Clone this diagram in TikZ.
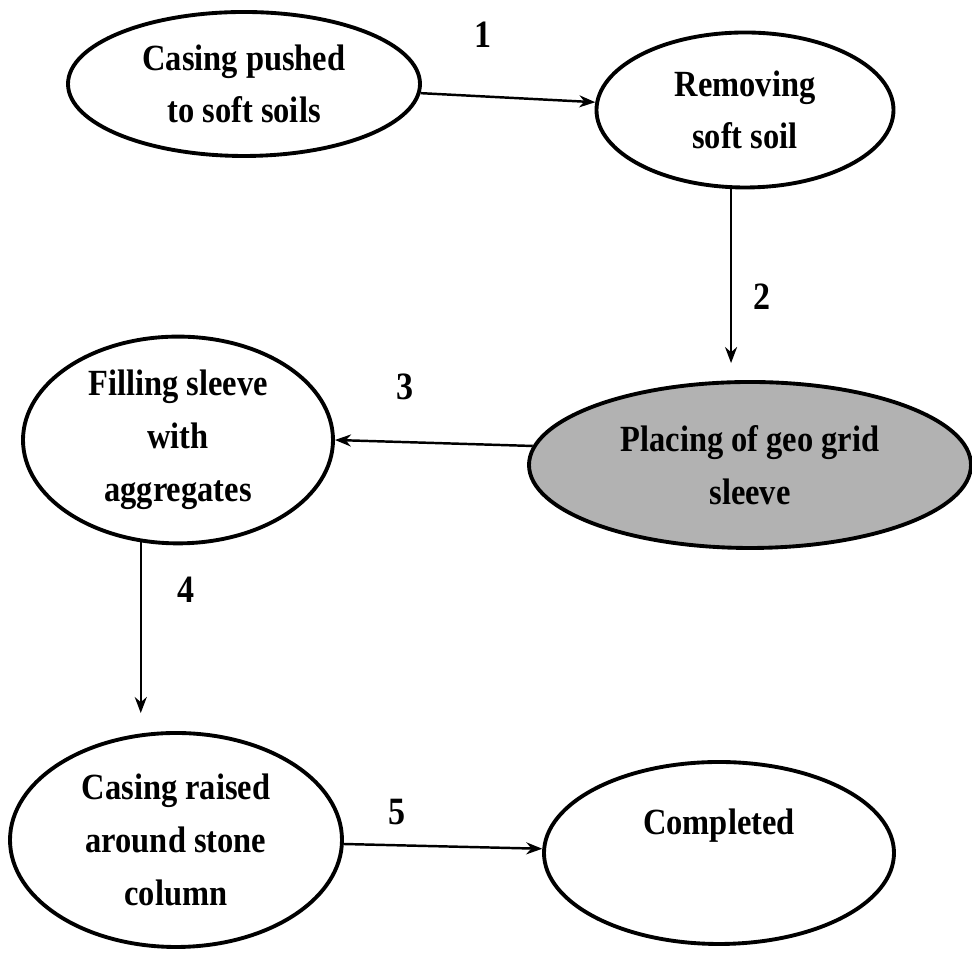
\documentclass[tikz,border=0pt]{standalone}
\usepackage{fontspec}
\setmainfont[FakeStretch=0.88]{Liberation Serif}
\usetikzlibrary{arrows.meta,positioning,shapes.geometric}

\begin{document}
\begin{tikzpicture}[
    stage/.style={ellipse, draw, line width=1.1pt, inner sep=1pt, align=center, font=\bfseries\fontsize{10.5}{15}\selectfont},
    flow/.style={-{Stealth[length=1.6mm,width=1.2mm]}, line width=0.7pt},
    num/.style={font=\bfseries\fontsize{11}{13}\selectfont}
  ]
    \useasboundingbox (0,0) rectangle (9.72,-9.54);

    % Top row
    \node[stage, minimum width=3.52cm, minimum height=1.44cm] (casing) at (2.44,-0.84) {Casing pushed\\to soft soils};
    \node[stage, minimum width=2.97cm, minimum height=1.55cm] (remove) at (7.45,-1.10) {Removing\\soft soil};

    % Middle row
    \node[stage, minimum width=3.10cm, minimum height=1.85cm] (filling) at (1.78,-4.40) {Filling sleeve\\with\\aggregates};
    \node[stage, fill=black!30, minimum width=4.42cm, minimum height=1.66cm] (sleeve) at (7.50,-4.65) {Placing of geo grid\\sleeve};

    % Bottom row
    \node[stage, minimum width=3.32cm, minimum height=2.14cm] (raising) at (1.76,-8.40) {Casing raised\\around stone\\column};
    \node[stage, minimum width=3.50cm, minimum height=1.82cm, text depth=0.62cm] (done) at (7.19,-8.53) {Completed};

    % Steps
    \draw[flow] (casing) -- (remove);
    \draw[flow, shorten >=0.17cm] (remove.260) -- (remove.260 |- sleeve.north);
    \draw[flow] (sleeve.175) -- (filling.east);
    \draw[flow, shorten >=0.18cm] (filling.250) -- (filling.250 |- raising.north);
    \draw[flow] (raising) -- (done);

    % Step numbers
    \node[num] (n1) at (4.83,-0.35) {1};
    \node[num] (n2) at (7.62,-2.97) {2};
    \node[num] (n3) at (4.05,-3.87) {3};
    \node[num] (n4) at (1.86,-5.90) {4};
    \node[num] (n5) at (3.97,-8.12) {5};
  \end{tikzpicture}
\end{document}
